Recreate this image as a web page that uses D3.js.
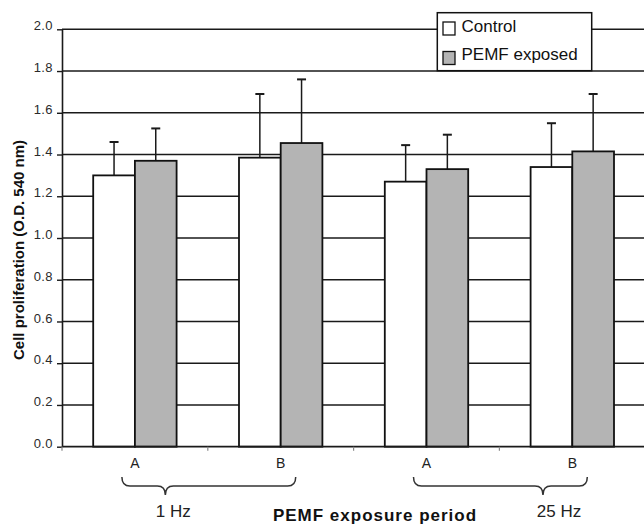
<!DOCTYPE html>
<html>
<head>
<meta charset="utf-8">
<script src="https://cdn.jsdelivr.net/npm/d3@7"></script>
<style>
  html, body { margin: 0; padding: 0; background: #fff; }
  svg { display: block; font-family: "Liberation Sans", Arial, sans-serif; }
</style>
</head>
<body>
<svg id="chart" width="644" height="526"></svg>
<script>
// ---- data ----
const groups = ["1 Hz A", "1 Hz B", "25 Hz A", "25 Hz B"];
const groupLabels = ["A", "B", "A", "B"];
const series = ["Control", "PEMF exposed"];
const controlMean = [1.30, 1.385, 1.27, 1.34];
const controlErr  = [0.16, 0.305, 0.175, 0.21];
const pemfMean    = [1.37, 1.455, 1.33, 1.415];
const pemfErr     = [0.155, 0.305, 0.165, 0.275];
const yTicks = [0, 0.2, 0.4, 0.6, 0.8, 1.0, 1.2, 1.4, 1.6, 1.8, 2.0];
const frequencies = [
  { label: "1 Hz",  from: "1 Hz A",  to: "1 Hz B",  tip: 0.25 },
  { label: "25 Hz", from: "25 Hz A", to: "25 Hz B", tip: 0.745 }
];

(function () {
const svg = d3.select("#chart");
const mLeft = 62, mRight = 645.2, mTop = 29.3, mBottom = 446.7;

const x = d3.scaleBand().domain(groups).range([mLeft, mRight])
  .paddingInner(0.428).paddingOuter(0.214);
const xs = d3.scaleBand().domain(series).range([0, x.bandwidth()]);
const y = d3.scaleLinear().domain([0, 2.0]).range([mBottom, mTop]);
const fill = d3.scaleOrdinal().domain(series).range(["#ffffff", "#b4b4b4"]);

// gridlines
svg.append("g").selectAll("line").data(yTicks.filter(d => d > 0)).join("line")
  .attr("x1", mLeft).attr("x2", 644)
  .attr("y1", d => y(d)).attr("y2", d => y(d))
  .attr("stroke", "#1a1a1a").attr("stroke-width", 1.5);

// y axis
const yAxis = svg.append("g").attr("transform", `translate(${mLeft},0)`)
  .call(d3.axisLeft(y).tickValues(yTicks).tickFormat(d3.format(".1f")).tickSize(5).tickSizeOuter(0));
yAxis.select(".domain").attr("stroke", "#1a1a1a").attr("stroke-width", 1.6);
yAxis.selectAll(".tick line").attr("stroke", "#1a1a1a").attr("stroke-width", 1.4);
yAxis.selectAll(".tick text").attr("x", -9).attr("dy", "0.05em")
  .attr("font-size", 13).attr("fill", "#2a2a2a").attr("letter-spacing", "0.4px")
  .attr("font-family", "'Liberation Sans', Arial, sans-serif");

// bars
const rows = groups.map((g, i) => [
  { g, s: series[0], v: controlMean[i], e: controlErr[i] },
  { g, s: series[1], v: pemfMean[i], e: pemfErr[i] }
]).flat();
const cx = d => x(d.g) + xs(d.s) + xs.bandwidth() / 2;

const barG = svg.append("g");
barG.selectAll("line.err").data(rows).join("line").attr("class", "err")
  .attr("x1", cx).attr("x2", cx)
  .attr("y1", d => y(d.v)).attr("y2", d => y(d.v + d.e))
  .attr("stroke", "#1a1a1a").attr("stroke-width", 1.5);
barG.selectAll("line.cap").data(rows).join("line").attr("class", "cap")
  .attr("x1", d => cx(d) - 4.5).attr("x2", d => cx(d) + 4.5)
  .attr("y1", d => y(d.v + d.e)).attr("y2", d => y(d.v + d.e))
  .attr("stroke", "#1a1a1a").attr("stroke-width", 2);
barG.selectAll("rect").data(rows).join("rect")
  .attr("x", d => x(d.g) + xs(d.s))
  .attr("width", xs.bandwidth())
  .attr("y", d => y(d.v))
  .attr("height", d => y(0) - y(d.v))
  .attr("fill", d => fill(d.s))
  .attr("stroke", "#111").attr("stroke-width", 1.8);

// x axis
svg.append("line").attr("x1", mLeft).attr("x2", 644).attr("y1", y(0)).attr("y2", y(0))
  .attr("stroke", "#1a1a1a").attr("stroke-width", 1.8);
const boundaries = groups.map((g, i) => mLeft + i * x.step());
svg.append("g").selectAll("line").data(boundaries).join("line")
  .attr("x1", d => d).attr("x2", d => d).attr("y1", y(0)).attr("y2", y(0) + 4)
  .attr("stroke", "#888").attr("stroke-width", 1.2);

svg.append("g").selectAll("text").data(groups).join("text")
  .attr("x", g => x(g) + x.bandwidth() / 2).attr("y", 468)
  .attr("text-anchor", "middle").attr("font-size", 14).attr("fill", "#222")
  .text((g, i) => groupLabels[i]);

// braces
const bz = svg.append("g");
frequencies.forEach(f => {
  const x0 = x(f.from) + x.bandwidth() / 2 - 13;
  const x1 = x(f.to) + x.bandwidth() / 2 + 15;
  const tip = x0 + (x1 - x0) * f.tip;
  const yT = 477, yM = 486, yB = 495, r = 8;
  const p = d3.path();
  p.moveTo(x0, yT);
  p.quadraticCurveTo(x0, yM, x0 + r, yM);
  p.lineTo(tip - r, yM);
  p.quadraticCurveTo(tip, yM, tip, yB);
  p.moveTo(tip, yB);
  p.quadraticCurveTo(tip, yM, tip + r, yM);
  p.lineTo(x1 - r, yM);
  p.quadraticCurveTo(x1, yM, x1, yT);
  bz.append("path").attr("d", p.toString()).attr("fill", "none")
    .attr("stroke", "#333").attr("stroke-width", 1.5);
  bz.append("text").attr("x", tip + (f.label === "1 Hz" ? 8 : 16)).attr("y", 516.5)
    .attr("text-anchor", "middle").attr("font-size", 17).attr("fill", "#222")
    .text(f.label);
});

// axis titles
svg.append("text").attr("x", 375).attr("y", 521)
  .attr("text-anchor", "middle").attr("font-size", 17).attr("font-weight", "bold")
  .attr("letter-spacing", "1px").attr("fill", "#111")
  .text("PEMF exposure period");
svg.append("text").attr("transform", "translate(24,250) rotate(-90)")
  .attr("text-anchor", "middle").attr("font-size", 15).attr("font-weight", "bold")
  .attr("fill", "#111")
  .text("Cell proliferation (O.D. 540 nm)");

// legend
const lg = svg.append("g");
lg.append("rect").attr("x", 437.3).attr("y", 12.7).attr("width", 154.4).attr("height", 58)
  .attr("fill", "#fff").attr("stroke", "#111").attr("stroke-width", 1.5);
series.forEach((s, i) => {
  lg.append("rect").attr("x", 443).attr("y", 22 + i * 29.5).attr("width", 12).attr("height", 13)
    .attr("fill", fill(s)).attr("stroke", "#111").attr("stroke-width", 1.3);
  lg.append("text").attr("x", 461.5).attr("y", 31.7 + i * 28.4)
    .attr("font-size", 17).attr("fill", "#111").text(s);
});
})();
</script>
</body>
</html>
